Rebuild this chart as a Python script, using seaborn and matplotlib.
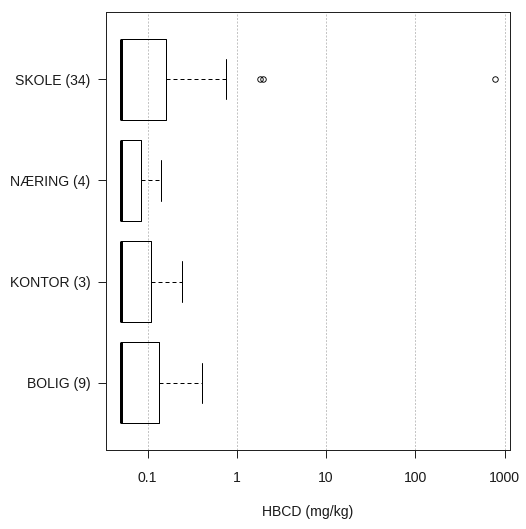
import numpy as np
import pandas as pd
import matplotlib
matplotlib.use("Agg")
import matplotlib as mpl
import matplotlib.pyplot as plt
from matplotlib.ticker import NullLocator
import seaborn as sns

# HBCD concentrations (mg/kg) by building type; 0.05 is the detection limit
categories = ["SKOLE (34)", "NÆRING (4)", "KONTOR (3)", "BOLIG (9)"]
skole = [0.05, 0.05, 0.05, 0.05, 0.05, 0.05, 0.05, 0.05, 0.05, 0.05,
         0.05, 0.05, 0.05, 0.05, 0.05, 0.05, 0.05, 0.05, 0.05, 0.05,
         0.06, 0.07, 0.09, 0.11, 0.13, 0.16, 0.20, 0.26, 0.35, 0.50,
         0.76, 1.80, 1.95, 780.0]
naering = [0.05, 0.05, 0.05, 0.14]
kontor = [0.05, 0.05, 0.243]
bolig = [0.05, 0.05, 0.05, 0.05, 0.05, 0.09, 0.133, 0.25, 0.404]

x_ticks = [0.1, 1, 10, 100, 1000]
x_tick_labels = ["0.1", "1", "10", "100", "1000"]
x_label = "HBCD (mg/kg)"


def tukey_boxplot_stats(X, whis=1.5, bootstrap=None, labels=None, autorange=False):
    """Box statistics from Tukey's hinges (five-number summary)."""
    out = []
    for values in X:
        x = np.sort(np.asarray(values, dtype=float))
        n = x.size
        n4 = np.floor((n + 3) / 2) / 2
        pos = np.array([1, n4, (n + 1) / 2, n + 1 - n4, n]) - 1
        five = 0.5 * (x[np.floor(pos).astype(int)] + x[np.ceil(pos).astype(int)])
        _, q1, med, q3, _ = five
        iqr = q3 - q1
        inside = x[(x >= q1 - whis * iqr) & (x <= q3 + whis * iqr)]
        lo, hi = inside.min(), inside.max()
        out.append(dict(mean=x.mean(), med=med, q1=q1, q3=q3, iqr=iqr,
                        cilo=med, cihi=med, whislo=lo, whishi=hi,
                        fliers=x[(x < lo) | (x > hi)]))
    return out


mpl.cbook.boxplot_stats = tukey_boxplot_stats

groups = [skole, naering, kontor, bolig]
df = pd.DataFrame({
    "category": np.repeat(categories, [len(g) for g in groups]),
    "hbcd": np.concatenate(groups),
})

sns.set_style("ticks")
plt.rcParams["font.family"] = ["Liberation Sans", "DejaVu Sans"]

W, H = 526, 529
fig = plt.figure(figsize=(W / 72, H / 72), dpi=72)
left, right, top, bottom = 105.7, 510.0, 12.3, 449.7
ax = fig.add_axes([left / W, 1 - bottom / H, (right - left) / W, (bottom - top) / H])

sns.boxplot(
    data=df, x="hbcd", y="category", order=categories, orient="h",
    log_scale=True, width=0.8, fill=False, color="black", linewidth=1,
    whis=1.5, ax=ax,
    whiskerprops=dict(linestyle=(0, (4, 3))),
    medianprops=dict(linewidth=3),
    flierprops=dict(marker="o", markersize=5.5, markerfacecolor="none",
                    markeredgecolor="black", markeredgewidth=0.9),
)

# log axis padded 4% beyond the data range on each side
lo = np.log10(df["hbcd"].min())
hi = np.log10(df["hbcd"].max())
pad = 0.04 * (hi - lo)
ax.set_xlim(10 ** (lo - pad), 10 ** (hi + pad))
n = len(categories)
ax.set_ylim(n - 0.5 + 0.04 * n, -0.5 - 0.04 * n)

ax.set_xticks(x_ticks)
ax.set_xticklabels(x_tick_labels)
ax.xaxis.set_minor_locator(NullLocator())

ax.xaxis.grid(True, which="major", color="#c4c4c4",
              linestyle=(0, (2, 1.5)), linewidth=1)
ax.yaxis.grid(False)
ax.set_axisbelow(True)

for side in ["left", "right", "top", "bottom"]:
    ax.spines[side].set_visible(True)
    ax.spines[side].set_color("#222222")
    ax.spines[side].set_linewidth(1)

ax.tick_params(axis="both", length=8, width=1, color="#222222",
               labelsize=14, labelcolor="#1a1a1a")
ax.tick_params(axis="x", pad=13)
ax.tick_params(axis="y", pad=7.4)
ax.set_xlabel(x_label, fontsize=14, labelpad=20, color="#1a1a1a")
ax.set_ylabel("")

fig.savefig("out.png", dpi=72)
